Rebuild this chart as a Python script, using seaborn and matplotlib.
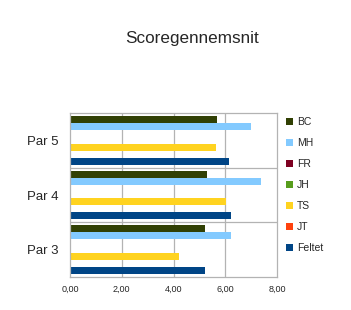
import matplotlib
matplotlib.use("Agg")
import matplotlib.pyplot as plt
import seaborn as sns
import pandas as pd
from matplotlib.ticker import FuncFormatter

categories = ["Par 5", "Par 4", "Par 3"]
series = ["BC", "MH", "FR", "JH", "TS", "JT", "Feltet"]
BC = [5.67, 5.30, 5.21]
MH = [7.01, 7.40, 6.22]
FR = [0.0, 0.0, 0.0]
JH = [0.0, 0.0, 0.0]
TS = [5.66, 6.01, 4.21]
JT = [0.0, 0.0, 0.0]
Feltet = [6.13, 6.24, 5.21]
colors = ["#314004", "#83caff", "#7e0021", "#579d1c", "#ffd320", "#ff420e", "#004586"]

values = {"BC": BC, "MH": MH, "FR": FR, "JH": JH, "TS": TS, "JT": JT, "Feltet": Feltet}
rows = []
for s in series:
    for c, v in zip(categories, values[s]):
        rows.append({"Par": c, "Serie": s, "Score": v})
df = pd.DataFrame(rows)

sns.set_style("white")
plt.rcParams["font.family"] = ["Liberation Sans", "DejaVu Sans"]

fig = plt.figure(figsize=(3.51, 3.10), dpi=100)
ax = fig.add_axes([70/351, 1-276.7/310, 207/351, (276.7-113.3)/310])

sns.barplot(data=df, y="Par", x="Score", hue="Serie", order=categories,
            hue_order=series, palette=colors, orient="h", width=0.89,
            saturation=1, ax=ax, legend=True)
for p in ax.patches:
    p.set_edgecolor("none")

ax.set_xlim(0, 8)
ax.set_ylim(2.5, -0.5)
ax.set_xticks([0, 2, 4, 6, 8])
ax.xaxis.set_major_formatter(FuncFormatter(lambda v, pos: f"{v:.2f}".replace(".", ",")))
ax.set_yticks([0, 1, 2])
ax.set_yticklabels(categories)
ax.set_yticks([-0.5, 0.5, 1.5, 2.5], minor=True)
ax.tick_params(axis="y", which="major", length=0, labelsize=9.5, pad=8)
ax.tick_params(axis="y", which="minor", length=4, color="#b3b3b3", width=0.8)
ax.tick_params(axis="x", which="major", length=3, color="#b3b3b3", width=0.8, labelsize=6.5, pad=3)
ax.set_xlabel("")
ax.set_ylabel("")
ax.set_axisbelow(True)
ax.grid(False)
for x in [2, 4, 6]:
    ax.axvline(x, color="#b3b3b3", lw=0.9, zorder=0)
for y in [0.5, 1.5]:
    ax.axhline(y, color="#b3b3b3", lw=0.9, zorder=0)
for sp in ax.spines.values():
    sp.set_color("#b3b3b3")
    sp.set_linewidth(0.9)

handles, labels = ax.get_legend_handles_labels()
ax.legend(handles, labels, loc="upper left", bbox_to_anchor=(1.025, 1.0), frameon=False,
          fontsize=7.5, handlelength=0.6, handleheight=0.6, handletextpad=0.4,
          labelspacing=1.05, borderaxespad=0)

fig.text(192/351, 1-38/310, "Scoregennemsnit", ha="center", va="center", fontsize=12.3)

fig.savefig("out.png", dpi=100)
